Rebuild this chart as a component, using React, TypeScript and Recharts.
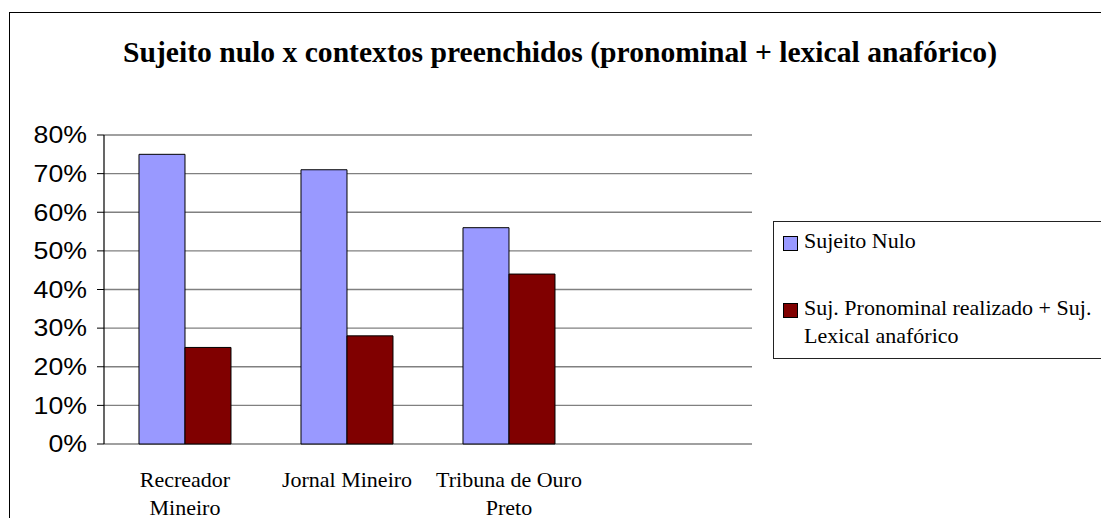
import React from 'react';
import { BarChart, Bar, XAxis, YAxis, CartesianGrid, Legend } from 'recharts';

const title = 'Sujeito nulo x contextos preenchidos (pronominal + lexical anafórico)';
const categories = ['Recreador\nMineiro', 'Jornal Mineiro', 'Tribuna de Ouro\nPreto', ''];
const sujeitoNulo = [0.75, 0.71, 0.56, null];
const pronominalLexical = [0.25, 0.28, 0.44, null];
const seriesNames = ['Sujeito Nulo', 'Suj. Pronominal realizado + Suj. Lexical anafórico'];
const seriesColors = ['#9999FF', '#800000'];
const yTicks = [0, 0.1, 0.2, 0.3, 0.4, 0.5, 0.6, 0.7, 0.8];
const boundaryTicks = [0, 1, 2, 3, 4];

const data = categories.map((c, i) => ({
  name: c,
  nulo: sujeitoNulo[i],
  pron: pronominalLexical[i],
}));

const SERIF = '"Liberation Serif", "Times New Roman", serif';
const SANS = '"Liberation Sans", Arial, sans-serif';

const YTick = (props: any) => {
  const { x, y, payload } = props;
  return (
    <text
      x={x}
      y={y}
      dy="0.36em"
      textAnchor="end"
      fontFamily={SANS}
      fontSize={23}
      fill="#000"
      transform={`translate(${x},${y}) scale(1.16,1) translate(${-x},${-y})`}
    >
      {`${Math.round(payload.value * 100)}%`}
    </text>
  );
};

const XTick = (props: any) => {
  const { x, y, payload } = props;
  const lines = String(payload.value).split('\n');
  return (
    <text x={x} y={y} textAnchor="middle" fontFamily={SERIF} fontSize={22} fill="#000">
      {lines.map((l, i) => (
        <tspan key={i} x={x} dy={i === 0 ? 43 : 28}>
          {l}
        </tspan>
      ))}
    </text>
  );
};

const LegendContent = (props: any) => {
  const { payload } = props;
  const items = [...(payload || [])].sort(
    (a: any, b: any) => seriesNames.indexOf(a.value) - seriesNames.indexOf(b.value)
  );
  return (
    <div
      style={{
        width: 340,
        height: 138,
        border: '1px solid #222',
        boxSizing: 'border-box',
        background: '#fff',
        fontFamily: SERIF,
        fontSize: 22,
        lineHeight: '28px',
        color: '#000',
        position: 'relative',
      }}
    >
      {items.map((p: any, i: number) => (
        <div
          key={i}
          style={{ position: 'absolute', left: 9, top: i === 0 ? 5 : 72, display: 'flex', alignItems: 'flex-start' }}
        >
          <div
            style={{
              width: 15,
              height: 15,
              marginTop: 9,
              background: p.color,
              border: '1px solid #000',
              boxSizing: 'border-box',
              flex: '0 0 auto',
            }}
          />
          <div style={{ marginLeft: 6, width: 300 }}>{p.value}</div>
        </div>
      ))}
    </div>
  );
};

export default function App() {
  return (
    <div style={{ position: 'absolute', left: 0, top: 0, width: 1101, height: 518, background: '#fff', overflow: 'hidden' }}>
      <div
        style={{
          position: 'absolute',
          left: 9,
          top: 12,
          width: 1200,
          height: 700,
          borderLeft: '1.5px solid #000',
          borderTop: '1.5px solid #000',
        }}
      />
      <svg width={1101} height={100} style={{ position: 'absolute', left: 0, top: 0 }}>
        <text x={560} y={62} textAnchor="middle" fontFamily={SERIF} fontWeight="bold" fontSize={29.6} fill="#000">
          {title}
        </text>
      </svg>
      <div style={{ position: 'absolute', left: 0, top: 0 }}>
        <BarChart
          width={1101}
          height={518}
          data={data}
          margin={{ top: 135, right: 349, bottom: 4, left: 44 }}
          barCategoryGap="21.6%"
          barGap={0}
        >
          <CartesianGrid
            xAxisId="cat"
            yAxisId="left"
            vertical={false}
            stroke="#808080"
            strokeWidth={1.4}
          />
          <XAxis
            xAxisId="num"
            type="number"
            domain={[0, 4]}
            allowDataOverflow
            ticks={boundaryTicks}
            height={0}
            tick={false}
            tickSize={9}
            tickLine={{ stroke: '#000', strokeWidth: 1 }}
            axisLine={{ stroke: '#000', strokeWidth: 1.2 }}
          />
          <XAxis
            xAxisId="cat"
            dataKey="name"
            height={70}
            tickLine={false}
            axisLine={false}
            tickSize={0}
            tickMargin={0}
            interval={0}
            tick={<XTick />}
          />
          <YAxis
            yAxisId="left"
            domain={[0, 0.8]}
            ticks={yTicks}
            width={60}
            tickSize={7}
            tickMargin={10}
            interval={0}
            tick={<YTick />}
            tickLine={{ stroke: '#000', strokeWidth: 1 }}
            axisLine={{ stroke: '#000', strokeWidth: 1.2 }}
          />
          <YAxis
            yAxisId="right"
            orientation="right"
            domain={[0, 0.8]}
            width={0}
            tick={false}
            tickLine={false}
            axisLine={{ stroke: '#808080', strokeWidth: 2 }}
          />
          <Legend
            layout="vertical"
            align="center"
            verticalAlign="middle"
            itemSorter="dataKey"
            wrapperStyle={{ left: 773, top: 221, width: 340, height: 138 }}
            content={<LegendContent />}
          />
          <Bar
            xAxisId="cat"
            yAxisId="left"
            dataKey="nulo"
            name={seriesNames[0]}
            fill={seriesColors[0]}
            stroke="#000"
            strokeWidth={1}
            isAnimationActive={false}
          />
          <Bar
            xAxisId="cat"
            yAxisId="left"
            dataKey="pron"
            name={seriesNames[1]}
            fill={seriesColors[1]}
            stroke="#000"
            strokeWidth={1}
            isAnimationActive={false}
          />
        </BarChart>
      </div>
    </div>
  );
}
